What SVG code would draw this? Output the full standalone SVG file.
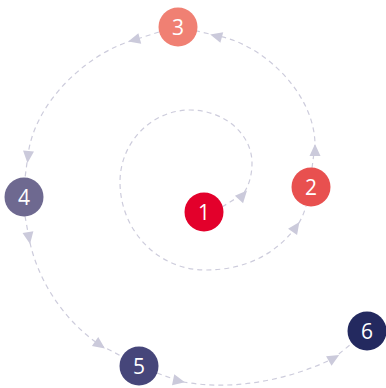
<svg xmlns="http://www.w3.org/2000/svg" xmlns:xlink="http://www.w3.org/1999/xlink" width="386" height="388" viewBox="0 0 386 388">
<style>
.c{fill:none;stroke:#cdccdc;stroke-width:1.2;stroke-dasharray:5 4}
.a{fill:#cbcadb}
.t{font-family:"Open Sans","Liberation Sans",sans-serif;font-size:21px;fill:#ffffff;text-anchor:middle;dominant-baseline:central}
</style>
<defs>
<polygon id="ah" points="6,0 -6,-5.5 -6,5.5"/>
</defs>
<rect width="386" height="388" fill="#ffffff"/>
<g id="connectors">
<path class="c" d="M222 207 L243 194 C249 186 252 175 252 163 C252 134 224 110 190 110 C151.5 110 120 142.4 120 182 C120 230.4 158 270 205 270 C245 270 275 255 297 226 Q303 217 306 206"/>
<path class="c" d="M312 168 L315 145 C315 95 265 45 218 36 L197 31"/>
<path class="c" d="M159 32 L134 40 C90 52 35 100 28 155 L25 178"/>
<path class="c" d="M25 216 L29 238 C36 275 60 318 100 345 L123 357"/>
<path class="c" d="M157 373 L179 381 C230 392 290 380 334 358 L351 344"/>
<use class="a" href="#ah" transform="translate(243,195) rotate(-48)"/>
<use class="a" href="#ah" transform="translate(296,227) rotate(-55)"/>
<use class="a" href="#ah" transform="translate(315,150) rotate(-90)"/>
<use class="a" href="#ah" transform="translate(216,36) rotate(-165)"/>
<use class="a" href="#ah" transform="translate(134,40) rotate(165)"/>
<use class="a" href="#ah" transform="translate(28,157) rotate(95)"/>
<use class="a" href="#ah" transform="translate(29,238) rotate(80)"/>
<use class="a" href="#ah" transform="translate(100,345) rotate(35)"/>
<use class="a" href="#ah" transform="translate(179,381) rotate(12)"/>
<use class="a" href="#ah" transform="translate(334,358) rotate(-30)"/>
</g>
<g id="node1"><circle cx="204" cy="212" r="19.5" fill="#e3002b"/><text class="t" x="204" y="212">1</text></g>
<g id="node2"><circle cx="311" cy="187" r="19.5" fill="#e8504f"/><text class="t" x="311" y="187">2</text></g>
<g id="node3"><circle cx="178" cy="27" r="19.5" fill="#f08073"/><text class="t" x="178" y="27">3</text></g>
<g id="node4"><circle cx="24" cy="197" r="19.5" fill="#6e6990"/><text class="t" x="24" y="197">4</text></g>
<g id="node5"><circle cx="139" cy="366" r="19.5" fill="#46467a"/><text class="t" x="139" y="366">5</text></g>
<g id="node6"><circle cx="367" cy="331" r="19.5" fill="#23295f"/><text class="t" x="367" y="331">6</text></g>
</svg>
